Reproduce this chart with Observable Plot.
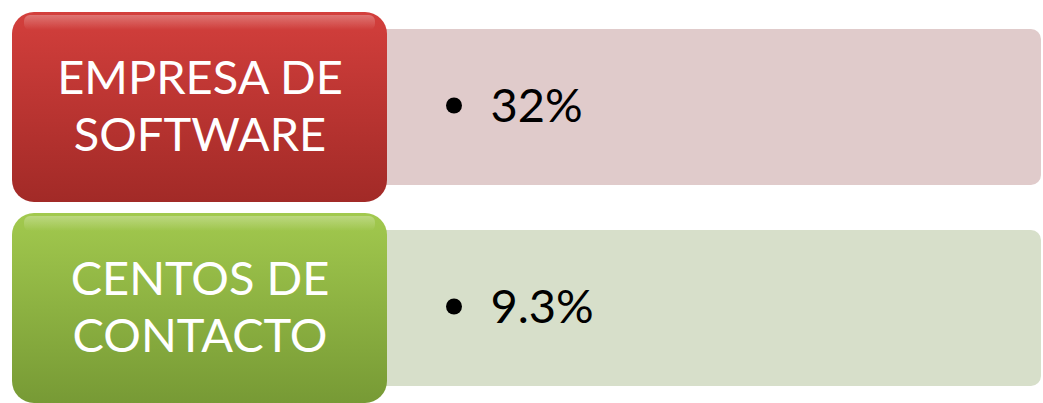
<!DOCTYPE html>
<html><head><meta charset="utf-8">
<script src="https://cdn.jsdelivr.net/npm/d3@7"></script>
<script src="https://cdn.jsdelivr.net/npm/@observablehq/plot@0.6"></script>
<style>html,body{margin:0;padding:0;background:#fff}svg{display:block}</style>
</head><body><div id="chart"></div>
<script>
// data
const categories = ["EMPRESA DE\nSOFTWARE", "CENTOS DE\nCONTACTO"];
const values = ["32%", "9.3%"];

const rows = categories.map((c, i) => ({category: c, value: values[i], idx: i}));

// styles
const boxFills = ["url(#g-red)", "url(#g-green)"];
const panelFills = ["#e0cbcb", "#d7dfca"];
const FONT = "Lato, 'Open Sans', sans-serif";
const FS = 47;

const chart = Plot.plot({
  width: 1043,
  height: 403,
  margin: 0,
  style: {background: "#ffffff", overflow: "visible"},
  x: {domain: [0, 1043], range: [0, 1043], axis: null},
  y: {type: "band", domain: categories, range: [12, 403], paddingInner: 0.055, paddingOuter: 0, axis: null},
  color: {type: "identity"},
  marks: [
    Plot.barX(rows, {x1: 370, x2: 1041, y: "category", insetTop: 17, insetBottom: 17,
      fill: d => panelFills[d.idx], rx: 10, ariaLabel: "panel"}),
    Plot.barX(rows, {x1: 12, x2: 387, y: "category", fill: d => boxFills[d.idx], rx: 22, ariaLabel: "box"}),
    Plot.barX(rows, {x1: 24, x2: 375, y: "category", insetTop: 3, insetBottom: 172,
      fill: "url(#g-shine)", rx: 6, ariaLabel: "shine"}),
    Plot.text(rows, {x: 199.5, y: "category", text: "category", fill: "white",
      fontSize: FS, lineHeight: 57 / FS, fontFamily: FONT, dy: -3}),
    Plot.dot(rows, {x: 453.5, y: "category", r: 8, fill: "black", dy: -2}),
    Plot.text(rows, {x: 490, y: "category", text: "value", textAnchor: "start", fill: "black",
      fontSize: FS, fontFamily: FONT, dy: -1})
  ]
});

const svg = d3.select(chart);
const defs = svg.insert("defs", ":first-child");
function grad(id, stops) {
  const g = defs.append("linearGradient").attr("id", id)
    .attr("x1", 0).attr("y1", 0).attr("x2", 0).attr("y2", 1);
  stops.forEach(([o, c, a]) => g.append("stop").attr("offset", o).attr("stop-color", c).attr("stop-opacity", a ?? 1));
}
grad("g-red", [[0, "#d33f3c"], [1, "#a22a27"]]);
grad("g-green", [[0, "#a2c94e"], [1, "#779a35"]]);
grad("g-shine", [[0, "#ffffff", 0.28], [1, "#ffffff", 0]]);
const f = defs.append("filter").attr("id", "shadow").attr("x", "-5%").attr("y", "-5%").attr("width", "110%").attr("height", "120%");
f.append("feDropShadow").attr("dx", 0).attr("dy", 3).attr("stdDeviation", 2).attr("flood-color", "#000").attr("flood-opacity", 0.35);
svg.selectAll('g[aria-label="panel"] rect, g[aria-label="box"] rect').attr("filter", "url(#shadow)");

document.getElementById("chart").appendChild(chart);
</script>
</body></html>
